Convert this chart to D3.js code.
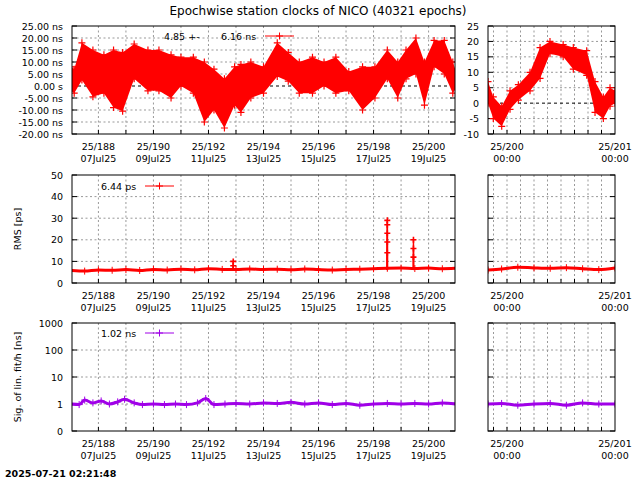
<!DOCTYPE html>
<html><head><meta charset="utf-8">
<script src="https://cdn.jsdelivr.net/npm/d3@7"></script>
<style>body{margin:0;background:#fff}text{font-family:"DejaVu Sans",sans-serif;font-size:9.5px;fill:#000}</style>
</head><body><svg id="c" width="640" height="480"></svg>
<script>
// ---- data ----
const clkDay = [187.0,187.12,187.4,187.8,188.2,188.55,188.88,189.3,189.8,190.2,190.64,191.0,191.45,191.85,192.2,192.58,192.95,193.18,193.54,194.0,194.5,194.9,195.3,195.78,196.2,196.63,197.1,197.6,198.05,198.5,198.88,199.18,199.54,199.85,200.2,200.57,200.88,201.0];
const clkHi  = [8,7,18,15,13,15,14,17.5,15,15,13,12,12,10,7,3,8,9,10,8,18,14,10,12,10,12,6,8,8,15,10,15,20,10,19,19,10,6];
const clkLo  = [-2,-3,2.5,-4.5,-3,-9,-10.5,3,-2,-2,-5,0,-3,-15,-10,-17.5,-8,-11,-5,-3,4,2,-3,-3,0,-3,-2,-10,-5,3,-5,3,5,-8,8,5,-3,-1];
const clkDayR = [199.824,199.873,199.951,200.028,200.105,200.213,200.306,200.398,200.52,200.614,200.738,200.815,200.892,200.954,201.0];
const clkHiR  = [7,2,-1,4,6,10,18,20,19,18,17,7,2,5,4];
const clkLoR  = [0,-5,-7.5,-2,1,4,8,16,15,11,9,-3,-5,-1,0];
const rmsDay = [187.0,187.5,188.0,188.5,189.0,189.5,190.0,190.5,191.0,191.5,192.0,192.5,193.0,193.5,194.0,194.5,195.0,195.5,196.0,196.5,197.0,197.5,198.0,198.5,199.0,199.5,200.0,200.5,201.0];
const rmsVal = [5.8,5.5,6.0,5.9,6.2,5.8,6.3,6.0,6.4,6.1,6.6,6.3,6.2,6.5,6.3,6.4,6.1,6.5,6.2,6.0,6.3,6.4,6.6,6.8,6.9,6.7,6.9,6.6,6.8];
const rmsSpikeDay = [192.9,192.9,198.5,198.5,198.5,198.5,198.5,199.45,199.45,199.45];
const rmsSpikeVal = [10,8,29,27,23,19,14,20,16,12];
const rmsDayR = [199.824,199.95,200.1,200.25,200.4,200.55,200.7,200.85,201.0];
const rmsValR = [6.0,6.5,7.3,7.0,6.8,7.1,6.6,6.2,7.0];
const sigDay = [187.0,187.3,187.5,187.8,188.1,188.4,188.7,188.95,189.3,189.6,190.0,190.4,190.8,191.2,191.6,191.9,192.2,192.6,193.0,193.5,194.0,194.5,195.0,195.5,196.0,196.5,197.0,197.5,198.0,198.5,199.0,199.5,200.0,200.5,201.0];
const sigVal = [1.0,0.95,1.4,1.1,1.3,1.0,1.2,1.5,1.1,0.95,1.0,0.95,1.0,0.95,1.1,1.6,0.95,1.0,1.05,1.0,1.1,1.05,1.15,1.0,1.1,0.95,1.05,0.9,1.0,1.05,1.0,1.05,1.0,1.1,1.0];
const sigDayR = [199.824,199.95,200.1,200.25,200.4,200.55,200.7,200.85,201.0];
const sigValR = [1.0,1.05,0.9,1.0,1.05,0.9,1.1,1.0,1.0];
const leftTickDays = [188,190,192,194,196,198,200];
const leftTickDates = ["07Jul25","09Jul25","11Jul25","13Jul25","15Jul25","17Jul25","19Jul25"];
const rightTickDays = [200,201];
const rightTickTimes = ["00:00","00:00"];
const clkTicksL = [25,20,15,10,5,0,-5,-10,-15,-20];
const clkTicksR = [25,20,15,10,5,0,-5,-10];
const rmsTicks = [0,10,20,30,40,50];
const sigTicks = [0.1,1,10,100,1000];
const title = "Epochwise station clocks of NICO (40321 epochs)";
const stamp = "2025-07-21 02:21:48";

// ---- drawing ----
const svg = d3.select("#c");
const RED = "#ff0000", PUR = "#a000e8";
const L = [72,455], R = [488,615];
const rows = [[26,134],[175,283],[323,431]];
const xL = d3.scaleLinear().domain([187.04,200.96]).range(L);
const xR = d3.scaleLinear().domain([199.824,201.0]).range(R);
svg.append("text").attr("x",318).attr("y",15).attr("text-anchor","middle").style("font-size","12px").text(title);
svg.append("text").attr("x",5).attr("y",477).style("font-weight","bold").text(stamp);
function plusPath(s){return `M${-s},0H${s}M0,${-s}V${s}`;}

function frame(x,y,yt,yfmt,xt,xfmt,gridStep,zero){
  const g = svg.append("g");
  const [x0,x1]=x.range(), [y1,y0]=y.range();
  const dash="2,2.5";
  const gd=[]; for(let d=Math.ceil(x.domain()[0]/gridStep-1e-9)*gridStep; d<x.domain()[1]-1e-9; d+=gridStep) gd.push(d);
  g.selectAll(null).data(gd).enter().append("line").attr("x1",d=>x(d)).attr("x2",d=>x(d)).attr("y1",y0).attr("y2",y1).attr("stroke","#999").attr("stroke-dasharray",dash);
  g.selectAll(null).data(yt.filter(v=>y(v)>y0+0.5&&y(v)<y1-0.5)).enter().append("line").attr("x1",x0).attr("x2",x1).attr("y1",d=>y(d)).attr("y2",d=>y(d)).attr("stroke",d=>zero&&d===0?"#000":"#999").attr("stroke-dasharray",d=>zero&&d===0?"3,3":dash);
  g.selectAll(null).data(yt).enter().append("line").attr("x1",x0).attr("x2",x0+5).attr("y1",d=>y(d)).attr("y2",d=>y(d)).attr("stroke","#000");
  g.selectAll(null).data(yt).enter().append("line").attr("x1",x1).attr("x2",x1-5).attr("y1",d=>y(d)).attr("y2",d=>y(d)).attr("stroke","#000");
  g.selectAll(null).data(gd).enter().append("line").attr("x1",d=>x(d)).attr("x2",d=>x(d)).attr("y1",y1).attr("y2",y1-4).attr("stroke","#000");
  if(yfmt) g.selectAll(null).data(yt).enter().append("text").attr("x",x0-9).attr("y",d=>y(d)+3.5).attr("text-anchor","end").text(yfmt);
  g.selectAll(null).data(xt).enter().append("text").attr("x",d=>x(d)).attr("y",y1+16).attr("text-anchor","middle").text(d=>"25/"+d);
  g.selectAll(null).data(xt).enter().append("text").attr("x",d=>x(d)).attr("y",y1+28).attr("text-anchor","middle").text((d,i)=>xfmt[i]);
  return g;
}
function frameBox(x,y){
  const [x0,x1]=x.range(), [y1,y0]=y.range();
  svg.append("rect").attr("x",x0).attr("y",y0).attr("width",x1-x0).attr("height",y1-y0).attr("fill","none").attr("stroke","#000");
}
function band(x,y,days,hi,lo,col,clipId){
  const g=svg.append("g").attr("clip-path",`url(#${clipId})`);
  const pts=days.map((d,i)=>({d,h:hi[i],l:lo[i]}));
  g.append("path").attr("d",d3.area().x(p=>x(p.d)).y0(p=>y(p.l)).y1(p=>y(p.h)).curve(d3.curveLinear)(pts)).attr("fill",col);
  const mk=[]; pts.forEach(p=>{mk.push([p.d,p.h]);mk.push([p.d,p.l]);});
  g.selectAll(null).data(mk).enter().append("path").attr("transform",m=>`translate(${x(m[0])},${y(m[1])})`).attr("d",plusPath(3.5)).attr("stroke",col).attr("stroke-width",1.2);
}
function line(x,y,days,vals,col,clipId){
  const g=svg.append("g").attr("clip-path",`url(#${clipId})`);
  const pts=days.map((d,i)=>[d,vals[i]]);
  g.append("path").attr("d",d3.line().x(p=>x(p[0])).y(p=>y(p[1])).curve(d3.curveMonotoneX)(pts)).attr("fill","none").attr("stroke",col).attr("stroke-width",3);
  g.selectAll(null).data(pts).enter().append("path").attr("transform",p=>`translate(${x(p[0])},${y(p[1])})`).attr("d",plusPath(3.5)).attr("stroke",col).attr("stroke-width",1);
}
const defs=svg.append("defs");
function clip(id,x,y){const [x0,x1]=x.range(),[y1,y0]=y.range();defs.append("clipPath").attr("id",id).append("rect").attr("x",x0).attr("y",y0).attr("width",x1-x0).attr("height",y1-y0);}
function legend(x,yy,label,col,pre){
  if(pre) svg.append("text").attr("x",x-57).attr("y",yy+3.5).text(pre);
  svg.append("text").attr("x",x).attr("y",yy+3.5).text(label);
  const lx=x+44;
  svg.append("line").attr("x1",lx).attr("x2",lx+29).attr("y1",yy).attr("y2",yy).attr("stroke",col);
  svg.append("path").attr("transform",`translate(${lx+14.5},${yy})`).attr("d",plusPath(3.5)).attr("stroke",col);
}
// Row 1
const yC=d3.scaleLinear().domain([-20,25]).range([rows[0][1],rows[0][0]]);
const yCR=d3.scaleLinear().domain([-10,25]).range([rows[0][1],rows[0][0]]);
clip("c1",xL,yC);clip("c2",xR,yCR);
frame(xL,yC,clkTicksL,d=>d===0?"0.00  s":d.toFixed(2)+" ns",leftTickDays,leftTickDates,1,true);
frame(xR,yCR,clkTicksR,d=>d,rightTickDays,rightTickTimes,0.125,true);
band(xL,yC,clkDay,clkHi,clkLo,RED,"c1");
band(xR,yCR,clkDayR,clkHiR,clkLoR,RED,"c2");
frameBox(xL,yC);frameBox(xR,yCR);
legend(221,36,"6.16 ns",RED,"4.85 +-");
// Row 2
const yM=d3.scaleLinear().domain([0,50]).range([rows[1][1],rows[1][0]]);
clip("c3",xL,yM);clip("c4",xR,yM);
frame(xL,yM,rmsTicks,d=>d,leftTickDays,leftTickDates,1,false);
frame(xR,yM,rmsTicks,null,rightTickDays,rightTickTimes,0.125,false);
line(xL,yM,rmsDay,rmsVal,RED,"c3");
line(xR,yM,rmsDayR,rmsValR,RED,"c4");
const spikes=rmsSpikeDay.map((d,i)=>[d,rmsSpikeVal[i]]);
svg.append("g").attr("clip-path","url(#c3)").selectAll(null).data(spikes).enter().append("line").attr("x1",p=>xL(p[0])).attr("x2",p=>xL(p[0])).attr("y1",p=>yM(p[1])).attr("y2",yM(6)).attr("stroke",RED).attr("stroke-width",1.5);
svg.append("g").attr("clip-path","url(#c3)").selectAll(null).data(spikes).enter().append("path").attr("transform",p=>`translate(${xL(p[0])},${yM(p[1])})`).attr("d",plusPath(3)).attr("stroke",RED).attr("stroke-width",1.6);
frameBox(xL,yM);frameBox(xR,yM);
legend(101,186,"6.44 ps",RED);
svg.append("text").attr("transform","translate(21,229) rotate(-90)").attr("text-anchor","middle").text("RMS [ps]");
// Row 3
const yS=d3.scaleLog().domain([0.1,1000]).range([rows[2][1],rows[2][0]]);
clip("c5",xL,yS);clip("c6",xR,yS);
frame(xL,yS,sigTicks,d=>d<1?"0":d,leftTickDays,leftTickDates,1,false);
frame(xR,yS,sigTicks,null,rightTickDays,rightTickTimes,0.125,false);
line(xL,yS,sigDay,sigVal,PUR,"c5");
line(xR,yS,sigDayR,sigValR,PUR,"c6");
frameBox(xL,yS);frameBox(xR,yS);
legend(101,333,"1.02 ns",PUR);
svg.append("text").attr("transform","translate(21,377) rotate(-90)").attr("text-anchor","middle").text("Sig. of lin. fit/h [ns]");
</script></body></html>
